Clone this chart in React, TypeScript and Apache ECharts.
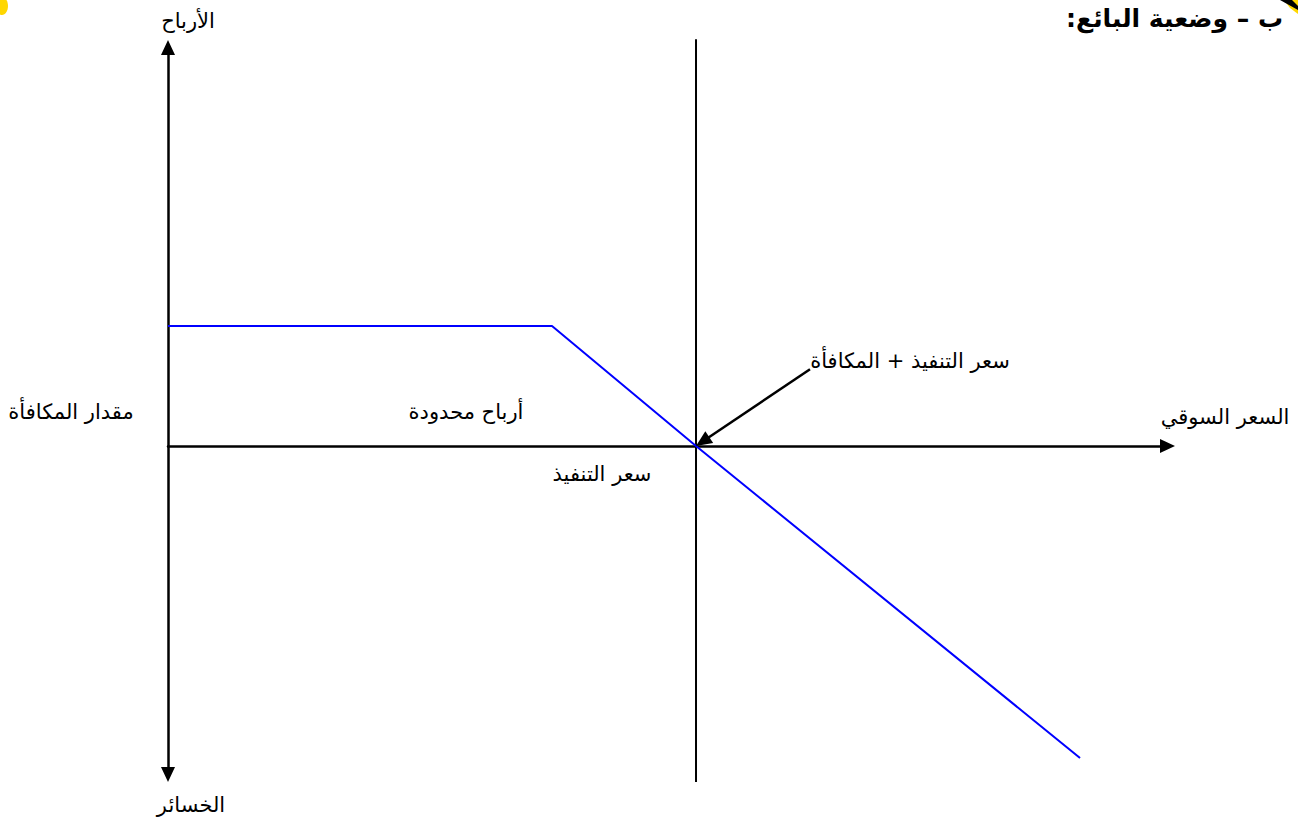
import React, { useEffect, useRef } from "react";
import * as echarts from "echarts";

// Payoff of the option seller (units: price on x, profit on y)
const payoffPrice = [0, 32, 44, 76];
const payoffProfit = [10, 10, 0, -26];
const strikePlusPremium = 44;
const verticalExtent = [-28, 33.9];
const arrowFrom = [53.5, 6.4];
const arrowTo = [44.55, 0.37];

const RLM = "\u200F";
const title = "ب – وضعية البائع:";
const yTopLabel = "الأرباح";
const yBottomLabel = "الخسائر";
const xEndLabel = "السعر السوقي";
const premiumLabel = "مقدار المكافأة";
const limitedProfitLabel = "أرباح محدودة";
const strikeLabel = "سعر التنفيذ";
const breakEvenLabel = "سعر التنفيذ + المكافأة";

const FONT = "'DejaVu Sans', sans-serif";

export default function App() {
  const ref = useRef<HTMLDivElement>(null);
  useEffect(() => {
    if (!ref.current) return;
    const chart = echarts.init(ref.current, null, { renderer: "svg" });
    const txt = (text: string, x: number, y: number, extra: any = {}) => ({
      type: "text",
      x,
      y,
      style: {
        text: RLM + text + RLM,
        fontSize: 21,
        fontFamily: FONT,
        fill: "#000",
        align: "center",
        verticalAlign: "middle",
        ...extra,
      },
    });
    chart.setOption({
      animation: false,
      backgroundColor: "#fff",
      grid: { left: 168, right: 130.5, top: 47.5, bottom: 50.5, containLabel: false },
      xAxis: {
        type: "value",
        min: 0,
        max: 83.29,
        axisLine: {
          onZero: true,
          symbol: ["none", "triangle"],
          symbolSize: [14, 15],
          lineStyle: { color: "#000", width: 2.5 },
        },
        axisTick: { show: false },
        axisLabel: { show: false },
        splitLine: { show: false },
      },
      yAxis: {
        type: "value",
        min: -27.375,
        max: 33.21,
        axisLine: {
          onZero: false,
          symbol: ["triangle", "triangle"],
          symbolSize: [14, 15],
          lineStyle: { color: "#000", width: 2.5 },
        },
        axisTick: { show: false },
        axisLabel: { show: false },
        splitLine: { show: false },
      },
      series: [
        {
          type: "line",
          data: payoffPrice.map((p, i) => [p, payoffProfit[i]]),
          symbol: "none",
          lineStyle: { color: "#0000ff", width: 2 },
          clip: false,
          z: 3,
        },
        {
          type: "line",
          data: [
            [strikePlusPremium, verticalExtent[0]],
            [strikePlusPremium, verticalExtent[1]],
          ],
          symbol: "none",
          lineStyle: { color: "#000", width: 2 },
          clip: false,
          z: 2,
          markLine: {
            silent: true,
            symbol: ["none", "triangle"],
            symbolSize: [14, 16],
            label: { show: false },
            lineStyle: { color: "#000", width: 2.5, type: "solid" },
            data: [[{ coord: arrowFrom }, { coord: arrowTo }]],
          },
        },
      ],
      graphic: [
        { type: "ellipse", shape: { cx: 2, cy: 6, rx: 6, ry: 9 }, style: { fill: "#ffd700" } },
        {
          type: "polygon",
          shape: { points: [[1284, 0], [1298, 0], [1298, 14], [1290, 8]] },
          style: { fill: "#ffd700" },
        },
        {
          type: "polygon",
          shape: { points: [[1280, 0], [1292, 0], [1298, 6], [1298, 10]] },
          style: { fill: "#000" },
        },
        txt(title, 1283, 18, { align: "right", fontSize: 25, fontWeight: "bold" }),
        txt(yTopLabel, 188, 21),
        txt(yBottomLabel, 191, 805),
        txt(xEndLabel, 1225, 417),
        txt(premiumLabel, 71, 412),
        txt(limitedProfitLabel, 466, 412),
        txt(strikeLabel, 602, 474),
        txt(breakEvenLabel, 910, 361),
      ],
    });
    return () => chart.dispose();
  }, []);
  return (
    <div
      ref={ref}
      style={{ position: "absolute", left: 0, top: 0, width: 1298, height: 825 }}
    />
  );
}
